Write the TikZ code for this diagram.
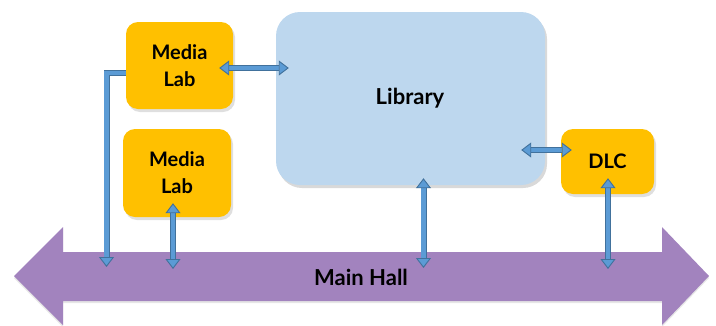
\documentclass[tikz,border=0pt]{standalone}
\usepackage{fontspec}
\setmainfont{Lato}
\usetikzlibrary{arrows.meta,shadows}
\definecolor{yel}{HTML}{FFC000}
\definecolor{libc}{HTML}{BDD7EE}
\definecolor{hallc}{HTML}{A283BE}
\definecolor{blueF}{HTML}{5B9BD5}
\definecolor{blueB}{HTML}{41719C}
\tikzset{
  room/.style={fill=yel, rounded corners=12pt, inner sep=0pt, align=center,
    font=\fontsize{20}{27}\selectfont\bfseries,
    drop shadow={opacity=0.25, shadow xshift=2pt, shadow yshift=-3pt}},
  libbox/.style={fill=libc, rounded corners=24pt, inner sep=0pt,
    drop shadow={opacity=0.3, shadow xshift=2pt, shadow yshift=-3pt}},
  bigtext/.style={font=\fontsize{22}{26}\selectfont\bfseries},
  tipA/.tip={Triangle[width=15pt,length=10pt,fill=blueF,line width=0.9pt]},
  conn/.style={draw=blueB, double=blueF, double distance=4.2pt, line width=0.9pt, tipA-tipA},
  conn1/.style={draw=blueB, double=blueF, double distance=4.2pt, line width=0.9pt, line join=miter, -tipA},
}
\begin{document}
\begin{tikzpicture}[x=1pt,y=-1pt]
\useasboundingbox (0,0) rectangle (716,325);
% main hall
\fill[hallc, drop shadow={opacity=0.2, shadow xshift=0pt, shadow yshift=-2pt}]
  (14,276) -- (63,227) -- (63,252) -- (662,252) -- (662,227) -- (709,276)
  -- (662,325) -- (662,301) -- (63,301) -- (63,325) -- cycle;
\node[bigtext] (hall) at (361,277) {Main Hall};
% rooms
\node[libbox, minimum width=269pt, minimum height=173pt] (lib) at (410.5,98.5) {};
\node[bigtext] (libt) at (410,98) {Library};
\node[room, minimum width=107pt, minimum height=87pt] (ml1) at (179.5,65.5) {Media\\Lab};
\node[room, minimum width=108pt, minimum height=88pt] (ml2) at (177,173) {Media\\Lab};
\node[room, minimum width=93pt, minimum height=65pt] (dlc) at (607.5,161.5) {DLC};
% free ends on the hall
\coordinate (h1) at (106.5,267);
\coordinate (h2) at (173,269);
\coordinate (h3) at (423.5,268);
\coordinate (h4) at (608,269);
% connectors
\draw[conn1] ([yshift=-7.5pt]ml1.west) -| (h1);
\draw[conn] ([xshift=-14pt,yshift=-2.5pt]ml1.east) -- ([xshift=13pt,yshift=30.5pt]lib.west);
\draw[conn] ([xshift=-4pt,yshift=14pt]ml2.south) -- (h2);
\draw[conn] ([xshift=13pt,yshift=7pt]lib.south) -- (h3);
\draw[conn] ([xshift=-24pt,yshift=-51.5pt]lib.east) -- ([xshift=11pt,yshift=11.5pt]dlc.west);
\draw[conn] ([xshift=0.5pt,yshift=16pt]dlc.south) -- (h4);
\end{tikzpicture}
\end{document}
